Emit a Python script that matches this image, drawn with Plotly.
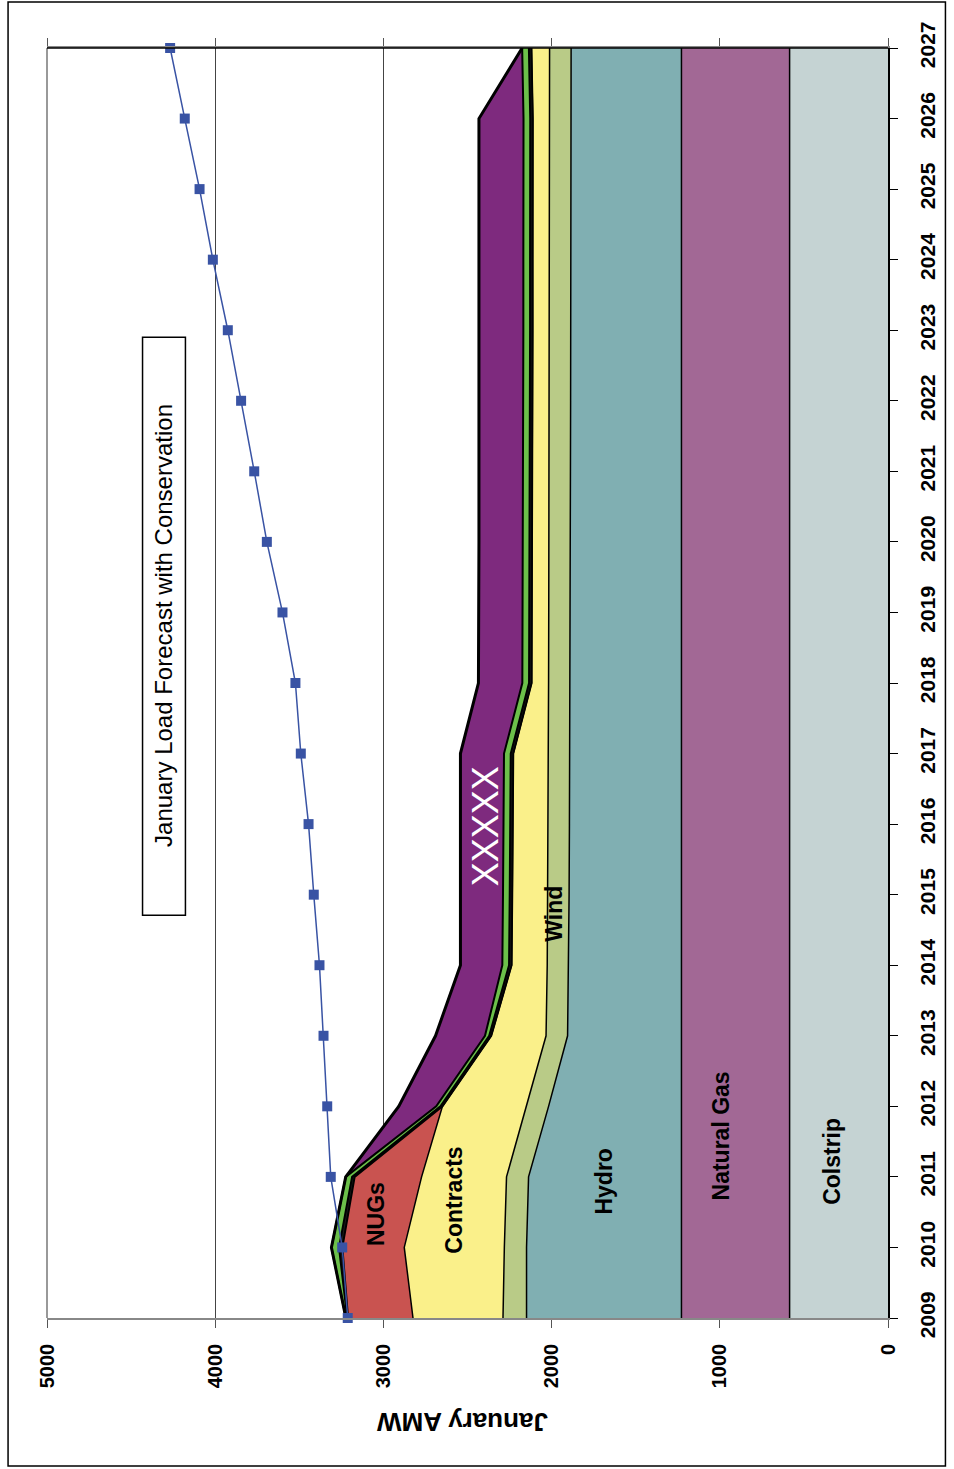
import plotly.graph_objects as go

years = [2009, 2010, 2011, 2012, 2013, 2014, 2015, 2016, 2017, 2018,
         2019, 2020, 2021, 2022, 2023, 2024, 2025, 2026, 2027]
colstrip = [585] * 19
natural_gas = [643] * 19
hydro = [921, 921, 909, 790, 677, 671, 668, 666, 664, 663, 662, 661, 660, 659, 658, 658, 657, 657, 656]
wind = [140, 132, 131, 131, 128, 127, 127, 127, 127, 127, 127, 127, 127, 127, 127, 127, 127, 127, 128]
contracts = [535, 595, 505, 500, 326, 212, 211, 210, 209, 101, 100, 100, 100, 100, 100, 100, 100, 100, 108]
nugs = [386, 368, 398, 0, 0, 0, 0, 0, 0, 0, 0, 0, 0, 0, 0, 0, 0, 0, 0]
other = [5, 20, 15, 12, 12, 15, 15, 15, 15, 15, 15, 15, 15, 15, 15, 15, 15, 15, 15]
green = [8, 45, 38, 25, 25, 40, 40, 40, 40, 40, 40, 40, 40, 40, 40, 40, 40, 40, 40]
xxxxx = [0, 0, 0, 223, 294, 249, 253, 256, 259, 261, 260, 261, 262, 263, 264, 264, 265, 265, 0]
load = [3212, 3245, 3313, 3334, 3356, 3380, 3414, 3445, 3491, 3523,
        3600, 3693, 3768, 3846, 3925, 4014, 4093, 4181, 4268]

layers = [
    ("Colstrip", colstrip, "#C5D3D3", 1.5),
    ("Natural Gas", natural_gas, "#A26895", 1.5),
    ("Hydro", hydro, "#80AFB2", 1.5),
    ("Wind", wind, "#B9CB87", 1.5),
    ("Contracts", contracts, "#FAF08A", 1.5),
    ("NUGs", nugs, "#C95350", 2),
    ("Other", other, "#1A1A1A", 2),
    ("Green", green, "#6CC04A", 2),
    ("XXXXX", xxxxx, "#7E2A7E", 3),
]

fig = go.Figure()
for name, vals, col, lw in layers:
    fig.add_trace(go.Scatter(
        x=vals, y=years, name=name, mode="lines", stackgroup="one",
        orientation="h", fillcolor=col,
        line=dict(color="black", width=lw), showlegend=False,
    ))

fig.add_trace(go.Scatter(
    x=load, y=years, mode="lines+markers", name="Load",
    line=dict(color="#3953A4", width=1.5),
    marker=dict(symbol="square", size=10, color="#3953A4"),
    cliponaxis=False, showlegend=False,
))

FONT = "Liberation Sans, Arial, sans-serif"

fig.update_layout(
    width=954, height=1469,
    margin=dict(l=47, r=66, t=48, b=151),
    paper_bgcolor="white", plot_bgcolor="white",
    font=dict(family=FONT, color="black"),
    xaxis=dict(
        range=[5000, 0], dtick=1000, tick0=0,
        showgrid=True, gridcolor="#444444", gridwidth=1,
        showline=True, linecolor="#888888", linewidth=1.5, mirror="ticks",
        ticks="outside", ticklen=8, tickcolor="#555555",
        tickangle=-90, ticklabelstandoff=8,
        tickfont=dict(size=20, family=FONT, weight="bold", color="black"),
        zeroline=False,
    ),
    yaxis=dict(
        range=[2009, 2027], side="right",
        tickvals=years, ticktext=[str(y) for y in years],
        showgrid=False, zeroline=False,
        showline=True, linecolor="black", linewidth=1.5,
        ticks="outside", ticklen=8, tickcolor="black",
        tickangle=-90, ticklabelstandoff=12,
        tickfont=dict(size=21, family=FONT, weight="bold", color="black"),
    ),
)

# left plot edge (gray) and top border line (black)
fig.add_shape(type="line", xref="paper", yref="paper", x0=0, x1=0, y0=0, y1=1,
              line=dict(color="#999999", width=2), layer="above")
fig.add_shape(type="line", xref="paper", yref="paper", x0=0, x1=1, y0=1, y1=1,
              line=dict(color="black", width=1.5), layer="above")
# outer frame
fig.add_shape(type="rect", xref="paper", yref="paper",
              x0=-0.0463, x1=1.0683, y0=-0.1165, y1=1.0362,
              line=dict(color="black", width=1.5))
# forecast text box
fig.add_shape(type="rect", xref="x", yref="y",
              x0=4432, x1=4177, y0=2014.71, y1=2022.90,
              line=dict(color="black", width=1.5), fillcolor="white", layer="above")

labels = [
    ("Colstrip", 330, 2011.22),
    ("Natural Gas", 996, 2011.58),
    ("Hydro", 1686, 2010.94),
    ("Contracts", 2577, 2010.67),
    ("NUGs", 3047, 2010.48),
    ("Wind", 1986, 2014.73),
]
for txt, xv, yv in labels:
    fig.add_annotation(x=xv, y=yv, text=txt, showarrow=False, textangle=-90,
                       font=dict(size=23, family=FONT, weight="bold", color="black"))

fig.add_annotation(x=2396, y=2015.97, text="XXXXX", showarrow=False, textangle=-90,
                   font=dict(size=36, family=FONT, color="white"))
fig.add_annotation(x=4304, y=2018.81, text="January Load Forecast with Conservation",
                   showarrow=False, textangle=-90,
                   font=dict(size=24, family=FONT, color="black"))
fig.add_annotation(xref="paper", yref="paper", x=0.494, y=-0.0819,
                   xanchor="center", yanchor="middle",
                   text="January AMW", showarrow=False, textangle=180,
                   font=dict(size=26, family=FONT, weight="bold", color="black"))

fig.write_html("out.html")
